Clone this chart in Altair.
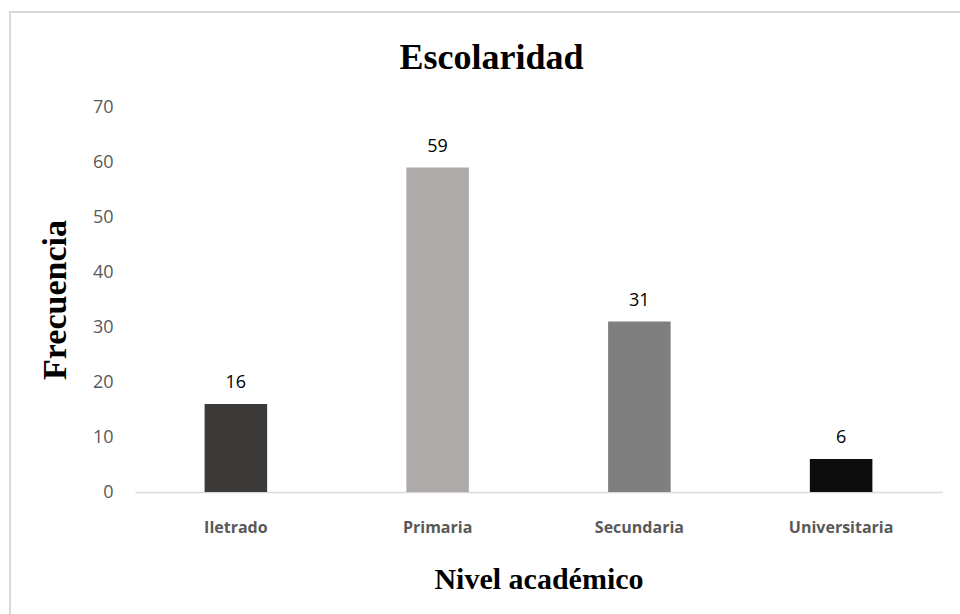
import altair as alt
import pandas as pd

categories = ["Iletrado", "Primaria", "Secundaria", "Universitaria"]
values = [16, 59, 31, 6]
colors = ["#3b3a38", "#aeaaa9", "#7f7f7f", "#0d0d0d"]
y_ticks = [0, 10, 20, 30, 40, 50, 60, 70]

df = pd.DataFrame({"cat": categories, "val": values})

x_enc = alt.X(
    "cat:N",
    sort=categories,
    scale=alt.Scale(paddingInner=0.69, paddingOuter=0.345),
    axis=alt.Axis(
        title="Nivel académico",
        labelAngle=0,
        labelFont="Open Sans",
        labelFontSize=16,
        labelFontWeight="bold",
        labelColor="#595959",
        labelPadding=27,
        ticks=False,
        domainColor="#d9d9d9",
        domainWidth=1.5,
        titleFont="Liberation Serif",
        titleFontSize=30,
        titleFontWeight="bold",
        titleColor="#000000",
        titlePadding=29,
        grid=False,
    ),
)

y_enc = alt.Y(
    "val:Q",
    scale=alt.Scale(domain=[0, 70], nice=False),
    axis=alt.Axis(
        title="Frecuencia",
        values=y_ticks,
        labelFont="Open Sans",
        labelFontSize=18,
        labelColor="#595959",
        labelPadding=22,
        ticks=False,
        domain=False,
        grid=False,
        titleFont="Liberation Serif",
        titleFontSize=34,
        titleFontWeight="bold",
        titleColor="#000000",
        titlePadding=20,
    ),
)

bars = alt.Chart(df).mark_bar().encode(
    x=x_enc,
    y=y_enc,
    color=alt.Color("cat:N", scale=alt.Scale(domain=categories, range=colors), legend=None),
)

labels = alt.Chart(df).mark_text(
    baseline="bottom", dy=-12, font="Open Sans", fontSize=18, color="#000000"
).encode(
    x=alt.X("cat:N", sort=categories),
    y="val:Q",
    text="val:Q",
)

border = alt.Chart(df).mark_rect(
    fill=None, stroke="#d9d9d9", strokeWidth=2, clip=False
).encode(
    x=alt.value(-125),
    x2=alt.value(835),
    y=alt.value(-95),
    y2=alt.value(520),
)

chart = (
    alt.layer(border, bars, labels)
    .properties(
        width=807,
        height=385,
        padding={"left": 135, "top": 107, "right": 18, "bottom": 122},
        autosize=alt.AutoSizeParams(type="none"),
        background="white",
        title=alt.Title(
            "Escolaridad",
            font="Liberation Serif",
            fontSize=36,
            fontWeight="bold",
            color="#000000",
            anchor="middle",
            dx=-47,
            offset=0,
            dy=66,
        ),
    )
    .configure_view(stroke=None)
)

chart.save("out.html", embed_options={"renderer": "svg", "actions": False})
